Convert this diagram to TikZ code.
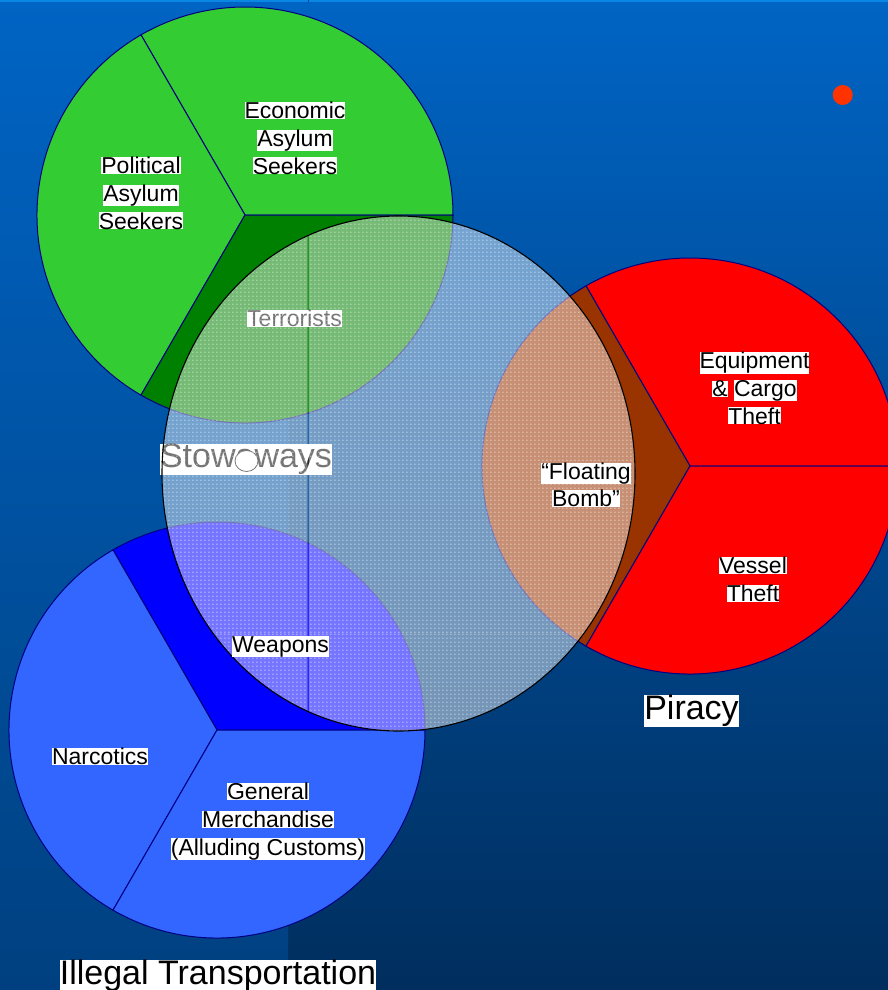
\documentclass[tikz,border=0pt]{standalone}
\usepackage{fontspec}
\setmainfont{Liberation Sans}
\usetikzlibrary{patterns}

\definecolor{bgtop}{RGB}{0,100,196}
\definecolor{bgbot}{RGB}{0,46,94}
\definecolor{bgleftbot}{RGB}{0,64,128}
\definecolor{topstrip}{RGB}{10,135,228}
\definecolor{pieedge}{RGB}{0,0,128}
\definecolor{grnpie}{RGB}{51,204,51}
\definecolor{grndark}{RGB}{0,128,0}
\definecolor{redpie}{RGB}{255,0,0}
\definecolor{brownpie}{RGB}{153,51,0}
\definecolor{bluepie}{RGB}{51,102,255}
\definecolor{bluedark}{RGB}{0,0,255}
\definecolor{dotred}{RGB}{255,51,0}

% fine grid of square dots for the translucent overlay
\pgfdeclarepatternformonly{finedots}{\pgfqpoint{0pt}{0pt}}{\pgfqpoint{4.3pt}{4.3pt}}{\pgfqpoint{4.3pt}{4.3pt}}%
  {\pgfpathrectangle{\pgfqpoint{1.4pt}{1.4pt}}{\pgfqpoint{1.5pt}{1.5pt}}\pgfusepath{fill}}

% white highlight tight around a line of text
\newcommand\hl[1]{{\fboxsep=0pt\colorbox{white}{#1}}}

% one wedge of a pie: center, start angle, end angle, fill colour
\newcommand\drawwedge[4]{%
  \filldraw[wedge, fill=#4] (#1) -- ++(#2:208) arc[start angle=#2, end angle=#3, radius=208] -- cycle;}

\tikzset{
  wedge/.style={draw=pieedge, line width=1pt, line join=round},
  veil/.style={fill=white, fill opacity=0.46},
  veildots/.style={pattern=finedots, pattern color=white, fill opacity=0.35},
  lbl/.style={align=center, inner sep=0pt, anchor=north, font=\fontsize{23}{27.6}\selectfont},
  biglbl/.style={inner sep=0pt, anchor=north, font=\fontsize{34}{40}\selectfont},
}

\begin{document}
\begin{tikzpicture}[x=1pt, y=-1pt]
\useasboundingbox (0,0) rectangle (888,990);
\clip (0,0) rectangle (888,990);

% background panels
\shade[top color=bgtop, bottom color=bgbot] (0,0) rectangle (888,990);
\shade[top color=bgtop, bottom color=bgleftbot] (0,0) rectangle (288,990);
\fill[topstrip] (0,0) rectangle (888,2.3);
\fill[bgtop!70!black] (307.5,0) rectangle (308.5,2.3);

% pie centres
\coordinate (gc) at (245,215);
\coordinate (rc) at (690,466);
\coordinate (bc) at (217,730);
\coordinate (sc) at (398.5,473.5);

% green pie (asylum seekers)
\drawwedge{gc}{0}{-120}{grnpie}
\drawwedge{gc}{-120}{-240}{grnpie}
\drawwedge{gc}{-240}{-360}{grndark}

% red pie (piracy)
\drawwedge{rc}{0}{-120}{redpie}
\drawwedge{rc}{-120}{-240}{brownpie}
\drawwedge{rc}{-240}{-360}{redpie}

% blue pie (illegal transportation)
\drawwedge{bc}{0}{-120}{bluedark}
\drawwedge{bc}{-120}{-240}{bluepie}
\drawwedge{bc}{-240}{-360}{bluepie}

% labels that sit beneath the stowaways veil
\node[lbl] (terror) at (294.5,310) {\hl{Terrorists}};
\node[biglbl] (stow) at (246,444) {\hl{Stowaways}};
\filldraw[fill=white, draw=black, line width=0.8pt] (246.5,461) ellipse[x radius=11.5, y radius=10.5];

% translucent stowaways ellipse, laid in four panels with thin seams
\foreach \xa/\xb/\ya/\yb in {0/307.5/0/632.5, 308.5/888/0/632.5, 0/307.5/633.5/990, 308.5/888/633.5/990}{
  \begin{scope}
    \clip (\xa,\ya) rectangle (\xb,\yb);
    \fill[veil] (sc) ellipse[x radius=236.5, y radius=257.5];
    \fill[veildots] (sc) ellipse[x radius=236.5, y radius=257.5];
  \end{scope}
}
\draw[black, line width=1.1pt] (sc) ellipse[x radius=236.5, y radius=257.5];

% slice labels
\node[lbl] (econ) at (295,102) {\hl{Economic}\\\hl{Asylum}\\\hl{Seekers}};
\node[lbl] (polit) at (141,157) {\hl{Political}\\\hl{Asylum}\\\hl{Seekers}};
\node[lbl] (equip) at (754.5,352) {\hl{Equipment}\\\hl{\&}\ \hl{Cargo}\\\hl{Theft}};
\node[lbl] (bomb) at (586,462.5) {\hl{“Floating}\\\hl{Bomb”}};
\node[lbl] (vessel) at (753,557) {\hl{Vessel}\\\hl{Theft}};
\node[lbl] (weapons) at (280.5,636) {\hl{Weapons}};
\node[lbl] (narc) at (100,748) {\hl{Narcotics}};
\node[lbl] (general) at (268,783) {\hl{General}\\\hl{Merchandise}\\\hl{(Alluding Customs)}};

% group titles
\node[biglbl] (piracy) at (691.5,695) {\hl{Piracy}};
\node[biglbl] (illegal) at (218,959.5) {\hl{Illegal Transportation}};

% marker dot
\fill[dotred] (842.7,95) circle[radius=10];
\end{tikzpicture}
\end{document}
